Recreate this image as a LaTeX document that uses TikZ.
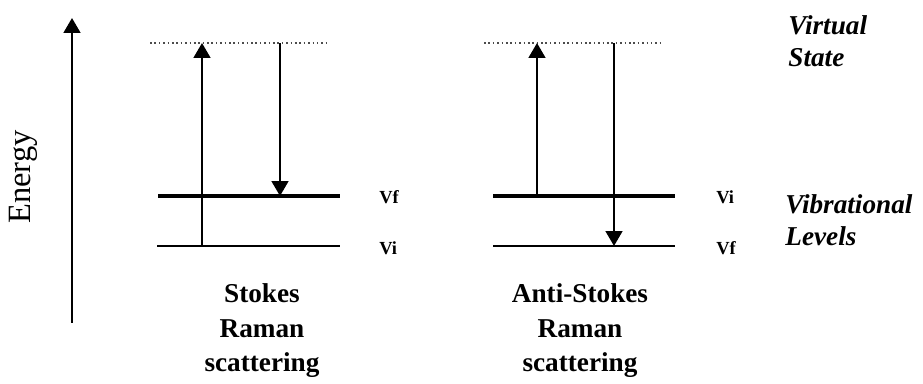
\documentclass[tikz,border=0pt]{standalone}
\usepackage{fontspec}
\setmainfont{Liberation Serif}
\usetikzlibrary{arrows.meta, positioning}
\tikzset{
  thicklvl/.style = {line width=1.8pt},
  thinlvl/.style  = {line width=1.1pt},
  virt/.style     = {line width=0.9pt, dash pattern=on 0.9pt off 1.6pt, black!70},
  arrow/.style    = {-{Triangle[width=9.5pt, length=8.5pt]}, line width=1.4pt},
  lvlname/.style  = {anchor=west, inner sep=0pt, font=\fontsize{10.5}{12}\selectfont\bfseries},
  title/.style    = {anchor=north, inner sep=0pt, align=center,
                     font=\fontsize{15.5}{19.8}\selectfont\bfseries},
  side/.style     = {anchor=north west, inner sep=0pt, align=left,
                     font=\fontsize{15.5}{18.5}\selectfont\bfseries\itshape},
}

\begin{document}
\begin{tikzpicture}[x=0.02cm, y=-0.02cm]
  \useasboundingbox (0,0) rectangle (923,384);

  % Energy axis
  \coordinate (Ebot) at (72,323);
  \coordinate (Etop) at (72,18);
  \draw[arrow] (Ebot) -- (Etop);
  \node[rotate=90, font=\fontsize{18.5}{20}\selectfont] (Elabel) at (23,177) {Energy};

  % Stokes: levels
  \draw[virt]     (150,43)  coordinate (sVsL) -- (328,43)  coordinate (sVsR);
  \draw[thicklvl] (158,196) coordinate (sVfL) -- (340,196) coordinate (sVfR);
  \draw[thinlvl]  (157,246) coordinate (sViL) -- (340,246) coordinate (sViR);
  \node[lvlname] (sVf) at (379,197) {Vf};
  \node[lvlname] (sVi) at (379,248) {Vi};

  % Stokes: transitions
  \coordinate (sUp0) at (202,246);
  \coordinate (sUp1) at (202,43);
  \coordinate (sDn0) at (280,43);
  \coordinate (sDn1) at (280,196);
  \draw[arrow] (sUp0) -- (sUp1);
  \draw[arrow] (sDn0) -- (sDn1);
  \node[title] (sName) at (262,283) {Stokes\\Raman\\scattering};

  % Anti-Stokes: levels
  \draw[virt]     (484,43)  coordinate (aVsL) -- (660,43)  coordinate (aVsR);
  \draw[thicklvl] (493,196) coordinate (aViL) -- (675,196) coordinate (aViR);
  \draw[thinlvl]  (493,246) coordinate (aVfL) -- (675,246) coordinate (aVfR);
  \node[lvlname] (aVi) at (716,197) {Vi};
  \node[lvlname] (aVf) at (716,248) {Vf};

  % Anti-Stokes: transitions
  \coordinate (aUp0) at (537,196);
  \coordinate (aUp1) at (537,43);
  \coordinate (aDn0) at (614,43);
  \coordinate (aDn1) at (614,246);
  \draw[arrow] (aUp0) -- (aUp1);
  \draw[arrow] (aDn0) -- (aDn1);
  \node[title] (aName) at (580,283) {Anti-Stokes\\Raman\\scattering};

  % right-hand captions
  \node[side] (virtual) at (788,15)  {Virtual\\State};
  \node[side] (vibr)    at (785,194) {Vibrational\\Levels};
\end{tikzpicture}
\end{document}
